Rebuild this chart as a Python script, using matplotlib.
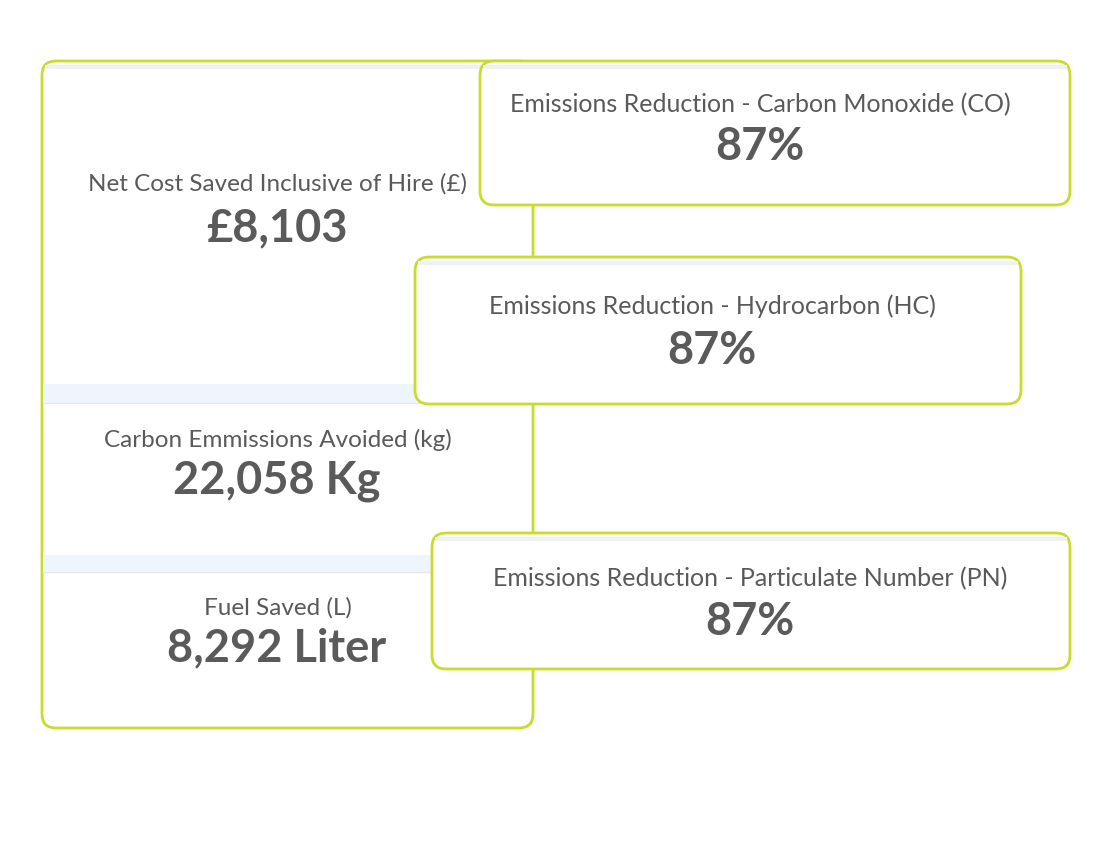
import matplotlib.pyplot as plt
from matplotlib.patches import FancyBboxPatch, Rectangle

plt.rcParams['font.family'] = ['Lato', 'DejaVu Sans']

left_titles = ["Net Cost Saved Inclusive of Hire (£)", "Carbon Emmissions Avoided (kg)", "Fuel Saved (L)"]
left_values = ["£8,103", "22,058 Kg", "8,292 Liter"]
card_titles = ["Emissions Reduction - Carbon Monoxide (CO)",
               "Emissions Reduction - Hydrocarbon (HC)",
               "Emissions Reduction - Particulate Number (PN)"]
card_values = ["87%", "87%", "87%"]

green = "#c8dc2c"
txt = "#5a5a5a"

fig = plt.figure(figsize=(11.1, 8.67), dpi=100)
ax = fig.add_axes([0, 0, 1, 1])
ax.set_xlim(0, 1110)
ax.set_ylim(867, 0)
ax.axis("off")

def card(x0, y0, x1, y1, z):
    ax.add_patch(FancyBboxPatch((x0, y0), x1 - x0, y1 - y0,
                                boxstyle="round,pad=0,rounding_size=14",
                                fc="white", ec=green, lw=2, zorder=z))
    ax.add_patch(Rectangle((x0 + 3, y0 + 4), x1 - x0 - 6, 4, fc="#eef2f6", ec="none", zorder=z + 0.1))

# left panel
card(42, 61, 533, 728, 1)
for y0, y1 in [(384, 403), (555, 572)]:
    ax.add_patch(Rectangle((43, y0), 489, y1 - y0, fc="#eff5fc", ec="none", zorder=1.2))
    ax.plot([43, 532], [y1, y1], color="#e4e8ec", lw=1, zorder=1.2)
left_pos = [(184, 228), (440, 481), (608, 648)]
for (ty, vy), t, v in zip(left_pos, left_titles, left_values):
    ax.text(278, ty, t, ha="center", va="center", fontsize=17.5, color=txt, zorder=1.5)
    ax.text(277, vy, v, ha="center", va="center", fontsize=32.5, fontweight="bold", color=txt, zorder=1.5)

# right cards
boxes = [(480, 61, 1070, 205), (415, 257, 1021, 404), (432, 533, 1070, 669)]
card_pos = [(760, 105, 147), (712, 306, 351), (750, 579, 622)]
for i, (b, (cx, ty, vy), t, v) in enumerate(zip(boxes, card_pos, card_titles, card_values)):
    z = 3 + i
    card(*b, z)
    ax.text(cx, ty, t, ha="center", va="center", fontsize=18, color=txt, zorder=z + 0.5)
    ax.text(cx, vy, v, ha="center", va="center", fontsize=32.5, fontweight="bold", color=txt, zorder=z + 0.5)

fig.savefig("out.png", dpi=100, facecolor="white")
